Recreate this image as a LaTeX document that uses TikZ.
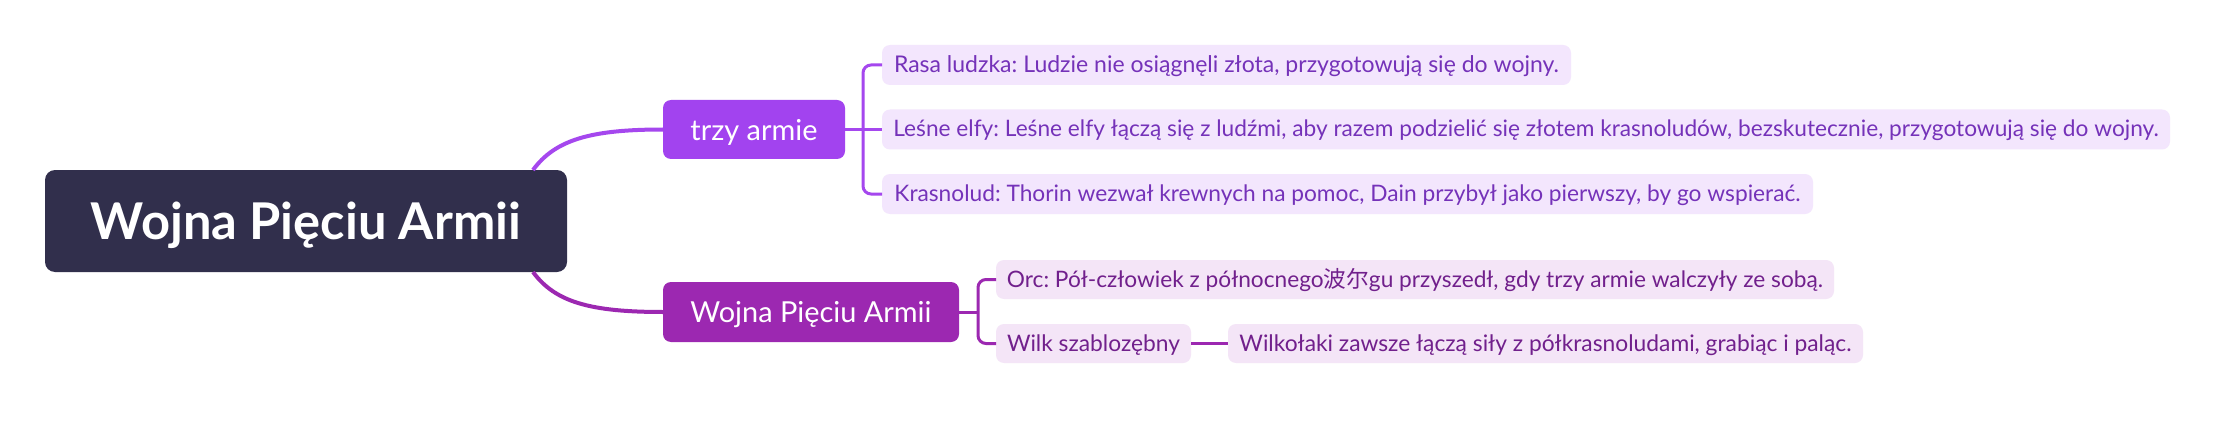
\documentclass[tikz,border=0pt]{standalone}
\usepackage{fontspec}
\setmainfont{Lato}
\newfontfamily\cjk{Noto Sans CJK SC}
\usetikzlibrary{calc}
\frenchspacing
\definecolor{rootc}{HTML}{312F4C}
\definecolor{armA}{HTML}{A243EF}
\definecolor{linkAc}{HTML}{A547EE}
\definecolor{armB}{HTML}{9C28B1}
\definecolor{childAfill}{HTML}{F3E6FD}
\definecolor{childAtext}{HTML}{7532B9}
\definecolor{childBfill}{HTML}{F4E5F7}
\definecolor{childBtext}{HTML}{71208C}
\newcommand{\fitto}[2]{\resizebox{#1pt}{!}{#2}}
\begin{document}
\begin{tikzpicture}[x=1pt,y=-1pt,
  basebox/.style={rectangle, inner sep=0pt, outer sep=0pt, text depth=0pt, anchor=center},
  rootbox/.style={basebox, fill=rootc, text=white, rounded corners=10pt, minimum width=522pt, minimum height=102pt, text height=37pt, font=\bfseries},
  armbox/.style={basebox, text=white, rounded corners=8pt, text height=21pt},
  childA/.style={basebox, fill=childAfill, text=childAtext, rounded corners=8pt, minimum height=40pt, text height=15pt},
  childB/.style={basebox, fill=childBfill, text=childBtext, rounded corners=8pt, minimum height=39pt, text height=15pt},
  mainlinkA/.style={draw=linkAc, line width=4pt},
  mainlinkB/.style={draw=armB, line width=4pt},
  linkA/.style={draw=linkAc, line width=3pt, rounded corners=8pt},
  linkB/.style={draw=armB, line width=3pt, rounded corners=8pt}]
\useasboundingbox (0,0) rectangle (2230,425);
\fill[white] (0,0) rectangle (2230,425);

\node[rootbox] (root) at (306,221) {\fitto{430}{Wojna Pięciu Armii}};
\node[armbox, fill=armA, minimum width=182pt, minimum height=59pt] (tA) at (754,129.5) {\fitto{127}{trzy armie}};
\node[armbox, fill=armB, minimum width=296pt, minimum height=60pt] (tB) at (811,312) {\fitto{241}{Wojna Pięciu Armii}};

\node[childA, minimum width=689pt] (rasa) at (1226.5,65) {\fitto{665}{Rasa ludzka: Ludzie nie osiągnęli złota, przygotowują się do wojny.}};
\node[childA, minimum width=1288pt] (lesne) at (1526,129.5) {\fitto{1265}{Leśne elfy: Leśne elfy łączą się z ludźmi, aby razem podzielić się złotem krasnoludów, bezskutecznie, przygotowują się do wojny.}};
\node[childA, minimum width=931pt] (kras) at (1347.5,194) {\fitto{906}{Krasnolud: Thorin wezwał krewnych na pomoc, Dain przybył jako pierwszy, by go wspierać.}};

\node[childB, minimum width=838pt] (orc) at (1415,279.5) {\fitto{816}{Orc: Pół-człowiek z północnego{\cjk 波尔}gu przyszedł, gdy trzy armie walczyły ze sobą.}};
\node[childB, minimum width=195pt] (wilk) at (1093.5,343.5) {\fitto{173}{Wilk szablozębny}};
\node[childB, minimum width=635pt] (wilko) at (1545.5,343.5) {\fitto{612}{Wilkołaki zawsze łączą siły z półkrasnoludami, grabiąc i paląc.}};

\coordinate (b1) at (863,129.5);
\coordinate (b2) at (978,312);

\draw[mainlinkA] ($(root.north east)+(-34,0)$) .. controls +(22,-30) and +(-73,0) .. (tA.west);
\draw[mainlinkB] ($(root.south east)+(-34,0)$) .. controls +(22,30) and +(-73,0) .. (tB.west);

\draw[linkA] (rasa.west) -| (b1) |- (kras.west);
\draw[linkA] (tA.east) -- (lesne.west);

\draw[linkB] (orc.west) -| (b2) |- (wilk.west);
\draw[linkB] (tB.east) -- (b2);
\draw[linkB] (wilk.east) -- (wilko.west);
\end{tikzpicture}
\end{document}
